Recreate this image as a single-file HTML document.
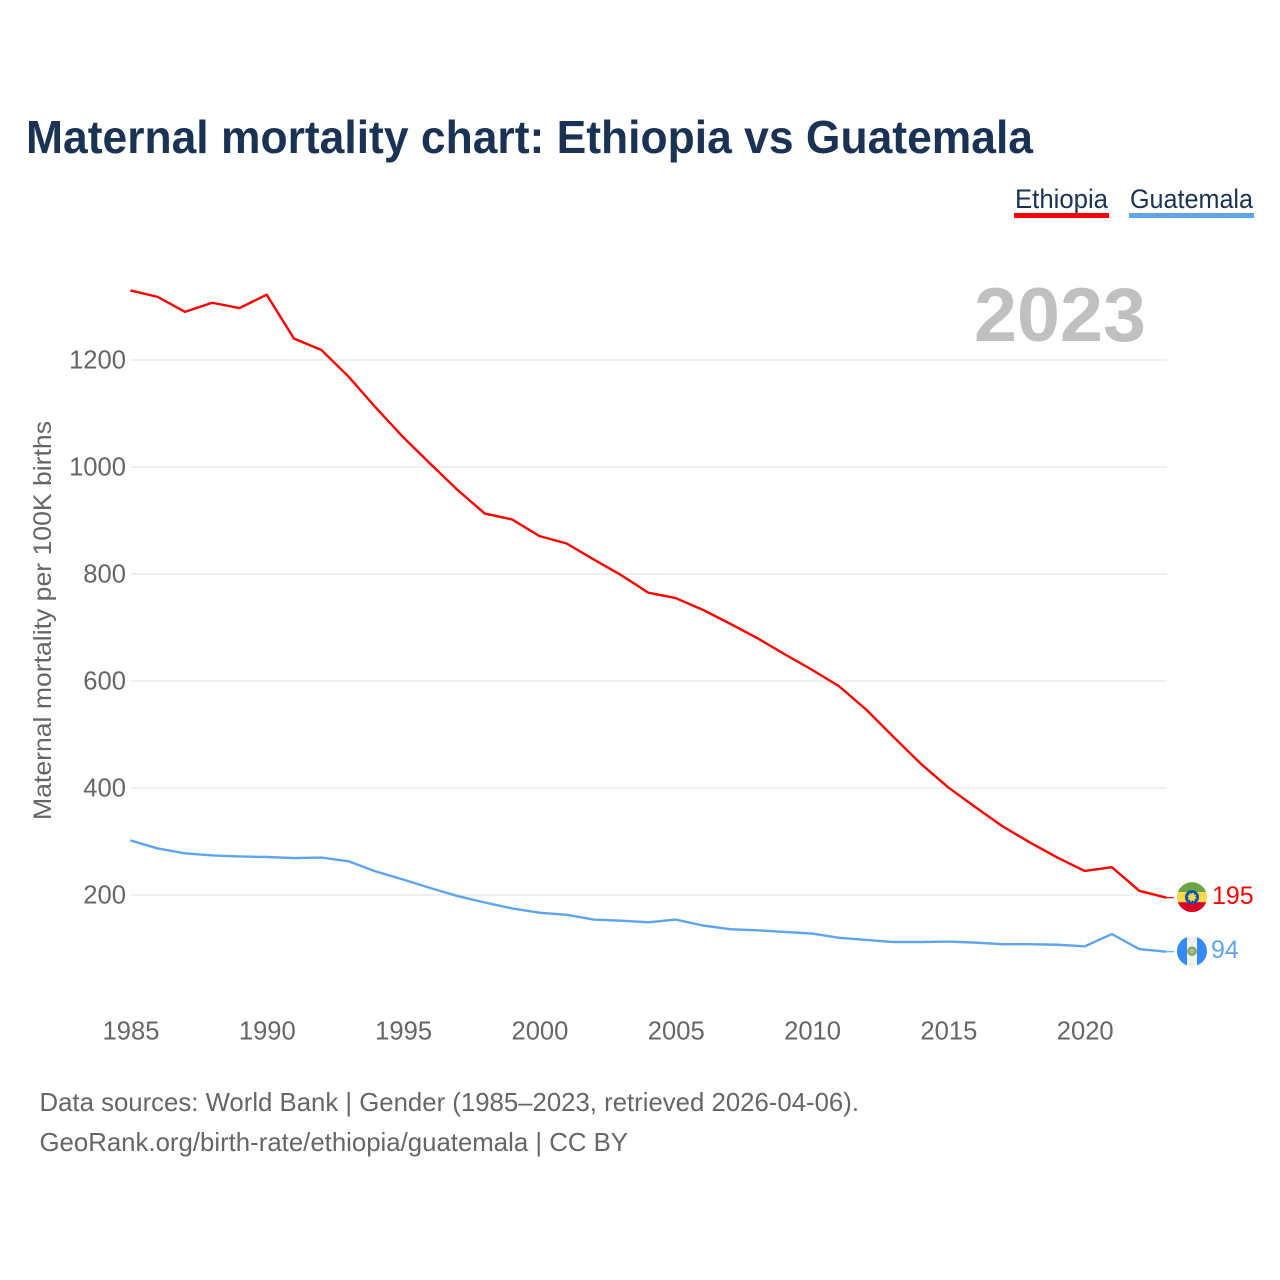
<!DOCTYPE html>
<html lang="en">
<head>
<meta charset="utf-8">
<title>Maternal mortality chart: Ethiopia vs Guatemala</title>
<style>
  html, body { margin: 0; padding: 0; background: #fff; }
  svg { display: block; font-family: "Liberation Sans", sans-serif; }
</style>
</head>
<body>
<svg id="chart" xmlns="http://www.w3.org/2000/svg" width="1280" height="1280" viewBox="0 0 1280 1280">
  <defs>
    <clipPath id="flag-clip-et"><circle cx="0" cy="0" r="15"></circle></clipPath>
    <clipPath id="flag-clip-gt"><circle cx="0" cy="0" r="15"></circle></clipPath>
  </defs>
  <rect x="0" y="0" width="1280" height="1280" fill="#ffffff"></rect>

  <text x="26" y="153" font-size="46" font-weight="700" fill="#1a3354" textLength="1007" lengthAdjust="spacingAndGlyphs">Maternal mortality chart: Ethiopia vs Guatemala</text>

  <g>
    <g>
      <text x="1015" y="208" font-size="27" fill="#1a3354" textLength="93" lengthAdjust="spacingAndGlyphs">Ethiopia</text>
      <rect x="1014" y="213" width="95" height="5" fill="#ff0000"></rect>
    </g>
    <g>
      <text x="1130" y="208" font-size="27" fill="#1a3354" textLength="123" lengthAdjust="spacingAndGlyphs">Guatemala</text>
      <rect x="1129" y="213" width="125" height="5" fill="#5fa5ee"></rect>
    </g>
  </g>

  <g id="grid"></g>

  <text x="974" y="341" font-size="76" font-weight="700" fill="#c0c0c0" textLength="172" lengthAdjust="spacingAndGlyphs">2023</text>

  <g id="y-axis"></g>
  <g id="x-axis"></g>

  <text transform="translate(51,820) rotate(-90)" x="0" y="0" font-size="25" fill="#666666" textLength="399" lengthAdjust="spacingAndGlyphs">Maternal mortality per 100K births</text>

  <g id="series"></g>

  <g id="flag-et">
    <g clip-path="url(#flag-clip-et)">
      <rect x="-15" y="-15" width="30" height="10" fill="#6da544"></rect>
      <rect x="-15" y="-5" width="30" height="10" fill="#ffda44"></rect>
      <rect x="-15" y="5" width="30" height="10" fill="#d80027"></rect>
      <circle cx="0" cy="0" r="7" fill="#0052b4"></circle>
      <circle cx="0" cy="0" r="3.4" fill="#ffda44" stroke="#ffda44" stroke-width="2" stroke-dasharray="1.5 1.2"></circle>
    </g>
  </g>
  <g id="flag-gt">
    <g clip-path="url(#flag-clip-gt)">
      <rect x="-15" y="-15" width="30" height="30" fill="#f0f0f0"></rect>
      <rect x="-15" y="-15" width="10" height="30" fill="#338af3"></rect>
      <rect x="5" y="-15" width="10" height="30" fill="#338af3"></rect>
      <circle cx="0" cy="0" r="3.8" fill="#b5b5a0" stroke="#6da544" stroke-width="1.8"></circle>
    </g>
  </g>

  <g id="end-labels"></g>

  <text x="39.5" y="1111" font-size="26" fill="#666666" textLength="819.5" lengthAdjust="spacingAndGlyphs">Data sources: World Bank | Gender (1985–2023, retrieved 2026-04-06).</text>
  <text x="39.5" y="1151" font-size="26" fill="#666666" textLength="588.5" lengthAdjust="spacingAndGlyphs">GeoRank.org/birth-rate/ethiopia/guatemala | CC BY</text>
</svg>

<script>
const years = [1985,1986,1987,1988,1989,1990,1991,1992,1993,1994,1995,1996,1997,1998,1999,2000,2001,2002,2003,2004,2005,2006,2007,2008,2009,2010,2011,2012,2013,2014,2015,2016,2017,2018,2019,2020,2021,2022,2023];
const ethiopia = [1330,1318,1290,1307,1297,1322,1240,1219,1169,1111,1056,1006,957,913,902,871,857,827,798,765,755,733,707,680,650,621,590,546,495,445,401,364,328,298,270,245,252,208,195];
const guatemala = [302,287,278,274,272,271,269,270,263,244,229,213,198,186,175,167,163,154,152,149,154,143,136,134,131,128,120,116,112,112,113,111,108,108,107,104,127,99,94];
const yTicks = [200,400,600,800,1000,1200];
const xTicks = [1985,1990,1995,2000,2005,2010,2015,2020];

const NS = 'http://www.w3.org/2000/svg';
function xScale(year) { return 130.4 + (year - 1985) * 27.263; }
function yScale(value) { return 1002 - value * 0.535; }

function make(tag, attrs, parent) {
  const el = document.createElementNS(NS, tag);
  Object.keys(attrs).forEach(function (k) { el.setAttribute(k, attrs[k]); });
  parent.appendChild(el);
  return el;
}

const gridGroup = document.getElementById('grid');
const yAxisGroup = document.getElementById('y-axis');
const xAxisGroup = document.getElementById('x-axis');
const seriesGroup = document.getElementById('series');
const labelGroup = document.getElementById('end-labels');

yTicks.forEach(function (t) {
  const line = make('line', { x1: 131, x2: 1167, y1: yScale(t), y2: yScale(t), stroke: '#e6e6e6', 'stroke-width': 1.3 }, gridGroup);
  
  
  const label = make('text', { x: 126, y: yScale(t) + 8.7, 'text-anchor': 'end', 'font-size': 25.6, fill: '#666666' }, yAxisGroup);
  label.textContent = String(t);
  
  
});

xTicks.forEach(function (t) {
  const label = make('text', { x: xScale(t) + 0.6, y: 1039.7, 'text-anchor': 'middle', 'font-size': 25.6, fill: '#666666' }, xAxisGroup);
  label.textContent = String(t);
  
  
});

function drawSeries(values, color, name, flagId, labelOffsetX) {
  const pts = values.map(function (v, i) { return xScale(years[i]).toFixed(2) + ',' + yScale(v).toFixed(2); }).join(' ');
  const line = make('polyline', { points: pts, fill: 'none', stroke: color, 'stroke-width': 2.4, 'stroke-linejoin': 'round' }, seriesGroup);
  
  

  const last = values[values.length - 1];
  const endX = xScale(years[years.length - 1]);
  const endY = yScale(last);
  const stub = make('line', { x1: endX, x2: endX + 7.6, y1: endY, y2: endY, stroke: color, 'stroke-width': 1.2 }, seriesGroup);
  
  

  document.getElementById(flagId).setAttribute('transform', 'translate(' + (endX + 25.6) + ',' + (endY - 0.5) + ')');

  const label = make('text', { x: endX + labelOffsetX, y: endY + 6.5, 'font-size': 25, fill: color }, labelGroup);
  label.textContent = String(last);
  
  
}

drawSeries(ethiopia, '#ff0000', 'ethiopia', 'flag-et', 45.6);
drawSeries(guatemala, '#5fa5ee', 'guatemala', 'flag-gt', 44.6);
</script>
</body>
</html>
